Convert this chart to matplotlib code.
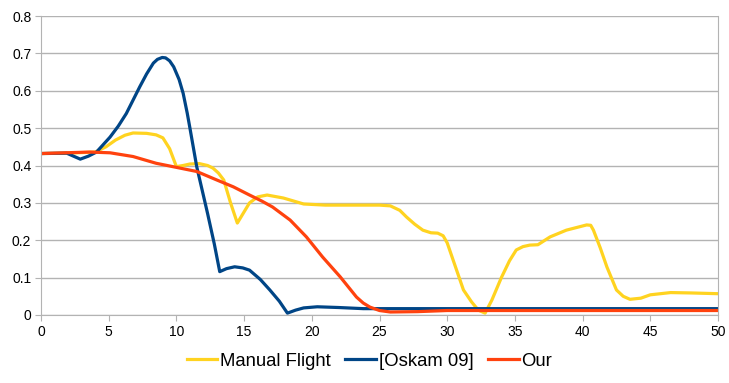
import matplotlib.pyplot as plt

plt.rcParams['font.family'] = ['Liberation Sans', 'DejaVu Sans']

# values
manual_x = [0, 2, 4, 4.8, 5.5, 6.2, 6.8, 7.8, 8.5, 9.0, 9.5, 10.0, 10.5, 11.0, 11.7,
            12.3, 12.7, 13.1, 13.5, 14.0, 14.5, 15.0, 15.4, 16.0, 16.7, 17.9, 19.4,
            21, 25, 25.8, 26.5, 27.0, 27.6, 28.2, 28.8, 29.3, 29.7, 30.0, 30.6, 31.2,
            31.8, 32.3, 32.8, 33.3, 34.0, 34.6, 35.1, 35.6, 36.1, 36.7, 37.6, 38.8,
            40.3, 40.6, 40.8, 41.3, 41.8, 42.5, 43.0, 43.5, 44.3, 45.0, 46.5, 48, 50]
manual_y = [0.432, 0.433, 0.436, 0.45, 0.468, 0.481, 0.487, 0.486, 0.482, 0.474, 0.445,
            0.397, 0.400, 0.404, 0.405, 0.400, 0.393, 0.38, 0.361, 0.3, 0.246, 0.276,
            0.3, 0.316, 0.321, 0.313, 0.297, 0.294, 0.294, 0.292, 0.28, 0.262, 0.243,
            0.227, 0.220, 0.219, 0.212, 0.193, 0.13, 0.067, 0.035, 0.013, 0.005, 0.04,
            0.1, 0.145, 0.174, 0.183, 0.187, 0.188, 0.209, 0.227, 0.241, 0.240, 0.227,
            0.18, 0.128, 0.067, 0.05, 0.042, 0.045, 0.054, 0.060, 0.059, 0.057]

oskam_x = [0, 1.9, 2.9, 3.5, 4.1, 5.1, 5.7, 6.3, 7.3, 7.8, 8.3, 8.6, 8.95, 9.2, 9.5,
           9.8, 10.2, 10.5, 10.8, 11.0, 11.5, 12.3, 12.8, 13.2, 13.7, 14.3, 14.9, 15.4,
           16.2, 16.9, 17.6, 18.2, 18.8, 19.4, 20.4, 22, 23.8, 25, 50]
oskam_y = [0.432, 0.433, 0.417, 0.425, 0.436, 0.476, 0.505, 0.539, 0.611, 0.645, 0.674,
           0.684, 0.689, 0.688, 0.680, 0.664, 0.63, 0.593, 0.54, 0.50, 0.397, 0.272,
           0.19, 0.116, 0.124, 0.129, 0.126, 0.12, 0.095, 0.067, 0.037, 0.005, 0.013,
           0.019, 0.022, 0.02, 0.017, 0.017, 0.017]

our_x = [0, 3.6, 5.1, 6.8, 8.5, 10, 11.5, 13, 14.2, 15.4, 16.3, 17.1, 18.4, 19.6, 20.8,
         22.1, 23.3, 23.8, 24.3, 25.0, 25.8, 27.8, 30, 50]
our_y = [0.432, 0.436, 0.434, 0.424, 0.406, 0.395, 0.384, 0.361, 0.343, 0.321, 0.305,
         0.289, 0.254, 0.209, 0.155, 0.102, 0.048, 0.032, 0.021, 0.012, 0.008, 0.009,
         0.012, 0.012]

fig = plt.figure(figsize=(7.29, 3.83), dpi=100)
fig.set_facecolor('white')
ax = fig.add_axes([41 / 729, 1 - 315 / 383, 677 / 729, 299 / 383])

lw = 2.3
ax.plot(manual_x, manual_y, color='#ffd320', lw=lw, label='Manual Flight', solid_joinstyle='round')
ax.plot(oskam_x, oskam_y, color='#004586', lw=lw, label='[Oskam 09]', solid_joinstyle='round')
ax.plot(our_x, our_y, color='#ff420e', lw=lw, label='Our', solid_joinstyle='round')

ax.set_xlim(0, 50)
ax.set_ylim(0, 0.8)
ax.set_xticks(range(0, 51, 5))
ax.set_yticks([i / 10 for i in range(9)])
ax.set_yticklabels(['0'] + ['%.1f' % (i / 10) for i in range(1, 9)])
ax.yaxis.grid(True, color='#b3b3b3', lw=1)
ax.set_axisbelow(True)
for s in ['left', 'bottom', 'right']:
    ax.spines[s].set_color('#b3b3b3')
ax.spines['top'].set_visible(False)
ax.tick_params(colors='#b3b3b3', labelcolor='black', labelsize=10, length=4)
ax.tick_params(axis='y', pad=3)

fig.legend(loc='center', bbox_to_anchor=(369.5 / 729, 1 - 361 / 383), ncol=3, frameon=False,
           fontsize=13.3, handlelength=1.65, handletextpad=0.15, columnspacing=0.8)

fig.savefig('out.png', dpi=100)
